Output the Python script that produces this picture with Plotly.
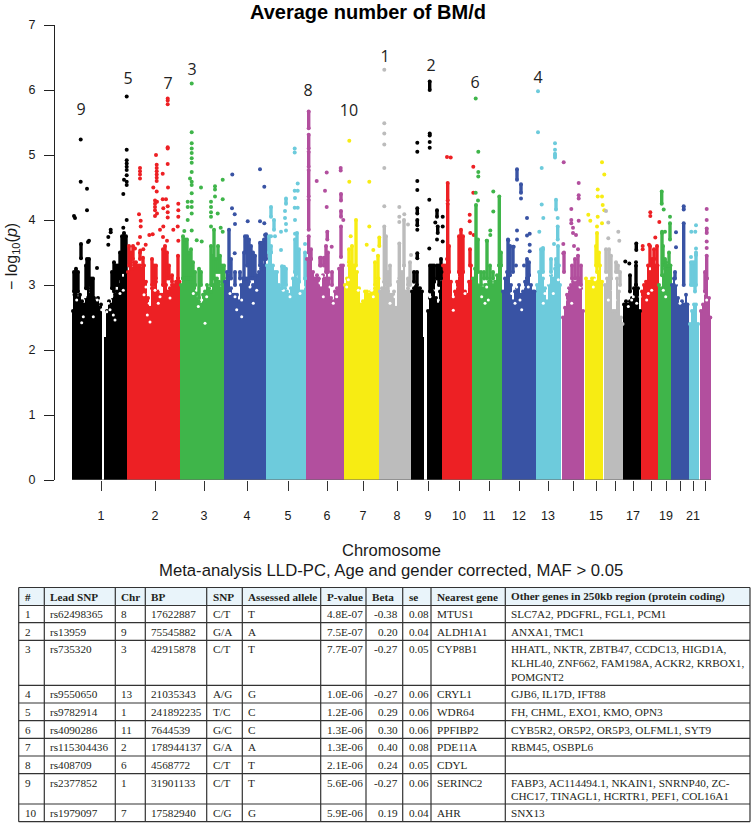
import plotly.graph_objects as go

# ---------- Manhattan plot data ----------
# x is a cumulative genome position on the plot's own scale; values are -log10(p).
labelled_ticks = [101,155,204,247,288,327,363,397,428,459,489,519,548,596,633,666,693]
tick_labels = ["1","2","3","4","5","6","7","8","9","10","11","12","13","15","17","19","21"]
unlabelled_ticks = [573,615,651,680,705]

# base blocks of the solid part: (chromosome, from, to)
blocks = [(1,72,102.2),(1,104,127),(2,127,180),(3,180,224),(4,224,266),(5,266,306),(6,306,344),(7,344,379),
          (8,379,411),(9,411,423.5),(9,427,442),(10,442,472),(11,472,502),(12,502,535),(13,535.7,561),(14,561.7,584),
          (15,585,603.3),(16,604,623.3),(17,623.3,640.7),(18,640.7,658.3),(19,658.3,671),(20,671,688.3),(21,689,699),(22,700,711)]
block_top = 2.2

sky1 = [(73,2.6),(74.5,2.85),(76,2.85),(78,2.8),(80,2.85),(82,2.75),(84,2.7),(86,2.8),(88,2.95),(90,2.85),(92,2.95),(94,2.8),(96,2.75),(98,2.8),(100,2.65),(101,2.7),(107,2.6),(109,2.75),(111,2.7),(113,2.8),(115,2.85),(117,2.9),(119,3.0),(121,3.2),(123,3.1),(125,3.2),(126.5,3.2)]
sky2 = [(128,3.2),(130,3.3),(132,3.25),(134,3.35),(136,3.35),(138,3.3),(140,3.3),(142,3.25),(144,3.3),(146,3.05),(148,2.8),(150,2.65),(152,2.95),(154,2.95),(156,3.05),(158,2.9),(160,2.85),(162,2.85),(164,3.0),(166,3.0),(168,2.9),(170,2.95),(172,3.0),(174,3.0),(176,3.05),(178,3.1),(179.5,3.05)]
sky3 = [(181,3.0),(183,3.1),(185,3.1),(187,3.1),(189,3.1),(191,3.05),(193,3.0),(195,3.0),(197,2.9),(199,2.75),(201,2.7),(203,2.85),(205,2.9),(207,3.0),(209,2.95),(211,2.9),(213,3.0),(215,3.1),(217,3.1),(219,3.05),(221,2.95),(223,3.05)]
sky4 = [(225,3.05),(227,3.2),(229,3.15),(231,2.95),(233,2.85),(235,2.85),(237,2.85),(239,2.75),(241,3.0),(243,3.1),(245,3.1),(247,3.1),(249,3.05),(251,2.95),(253,3.0),(255,3.1),(257,3.15),(259,3.2),(261,3.25),(263,3.3),(265,3.4)]
sky5 = [(267,3.3),(269,3.5),(271,3.5),(273,3.3),(275,3.2),(277,3.2),(279,3.0),(281,2.95),(283,2.9),(285,2.95),(287,2.9),(289,2.85),(291,2.95),(293,3.1),(295,3.2),(297,3.25),(299,3.05),(301,2.9),(303,2.9),(305,3.1)]
sky6 = [(307,3.4),(309,3.5),(311,3.4),(313,3.2),(315,3.1),(317,3.15),(319,3.1),(321,2.95),(323,3.15),(325,3.1),(327,3.2),(329,3.1),(331,2.8),(333,2.75),(335,2.9),(337,2.95),(339,3.25),(341,3.3),(343,3.3)]
sky7 = [(345,3.0),(347,3.1),(349,3.3),(351,3.35),(353,3.3),(355,3.3),(357,3.2),(359,2.95),(361,2.7),(363,2.75),(365,2.9),(367,2.9),(369,2.85),(371,2.9),(373,2.9),(375,2.95),(377,3.05),(378.5,3.1)]
sky8 = [(380,2.9),(382,2.95),(384,3.05),(386,2.95),(388,2.9),(390,2.85),(392,2.85),(394,2.9),(396,2.65),(398,3.05),(400,3.1),(402,3.2),(404,3.3),(406,2.9),(408,2.95),(410,2.9)]
sky9 = [(412,2.9),(414,2.95),(416,2.98),(418,2.95),(420,2.95),(422,2.9),(428,2.6),(430,2.8),(432,2.9),(434,3.05),(436,2.8),(438,2.7),(440,2.9),(441.5,3.2)]
sky10 = [(443,3.3),(445,3.3),(447,3.4),(449,3.2),(451,3.05),(453,2.8),(455,2.9),(457,3.05),(459,3.2),(461,3.3),(463,3.2),(465,2.9),(467,2.85),(469,3.05),(471,3.3)]
sky11 = [(473,3.1),(475,3.25),(477,3.25),(479,3.0),(481,2.95),(483,2.95),(485,3.0),(487,3.0),(489,3.05),(491,3.05),(493,3.0),(495,3.05),(497,3.15),(499,3.3),(501,3.3)]
sky12 = [(503,2.9),(505,3.1),(507,3.2),(509,3.15),(511,3.0),(513,2.75),(515,2.9),(517,2.95),(519,3.0),(521,2.85),(523,2.9),(525,3.05),(527,3.1),(529,3.15),(531,3.0),(533,2.9),(534.5,2.9)]
sky13 = [(537,3.0),(539,3.2),(541,3.2),(543,3.1),(545,2.95),(547,2.75),(549,3.0),(551,3.15),(553,3.1),(555,3.25),(557,3.3),(559,3.3),(560,3.0)]
sky14 = [(563,2.5),(565,2.65),(567,2.85),(569,2.95),(571,3.0),(573,3.05),(575,3.1),(577,3.1),(579,3.1),(581,2.95),(583,2.6)]
sky15 = [(586,3.1),(588,3.05),(590,3.05),(592,3.1),(594,3.1),(596,3.05),(598,3.2),(600,3.3),(602,3.05)]
sky16 = [(605,3.0),(607,3.1),(609,3.2),(611,3.1),(613,2.6),(615,2.6),(617,3.1),(619,2.9),(621,2.5),(622.5,2.4)]
sky17 = [(624,2.7),(626,2.75),(628,2.7),(630,2.75),(632,2.8),(634,2.95),(636,3.0),(638,2.95),(640,2.6)]
sky18 = [(642,2.9),(644,3.0),(646,3.05),(648,3.3),(650,3.2),(652,3.4),(654,3.4),(656,3.3),(657.5,3.3)]
sky19 = [(659,3.0),(661,2.95),(663,3.15),(665,3.25),(667,3.3),(669,3.3),(670.5,3.3)]
sky20 = [(672,3.0),(674,3.1),(676,3.0),(678,2.8),(680,2.7),(682,2.75),(684,2.7),(686,2.85),(687.5,2.7)]
sky21 = [(690,2.4),(692,2.6),(694,2.7),(696,2.7),(698,2.4)]
sky22 = [(701,2.6),(703,2.7),(705,2.9),(707,3.1),(709,2.8),(710.3,2.5)]
skylines = [sky1,sky2,sky3,sky4,sky5,sky6,sky7,sky8,sky9,sky10,sky11,sky12,sky13,sky14,sky15,sky16,sky17,sky18,sky19,sky20,sky21,sky22]

# small empty patches inside the mass
holes1 = [(81.7,2.42),(83.3,2.51),(76.7,2.77),(85,2.82),(80.7,2.97),(101.7,2.62),(93.3,2.51),(97.3,2.77),(111.7,2.82),(110,2.62),(115,2.46),(113.3,2.54),(120,2.87),(123.3,2.92),(106.7,2.59),(108.3,2.72)]
holes2 = [(147.3,2.54),(149.3,2.72),(148.3,2.87),(146,2.97),(144,2.85),(158.3,2.72),(160,2.82),(160.7,2.92),(150,2.43),(170,2.8),(160,3.08),(173.3,3.18),(155,2.92)]
holes3 = [(193.3,2.87),(196.7,2.92),(198.3,2.82),(201.7,2.77),(205,2.41),(186.7,3.13),(191.7,3.44),(195,3.28),(200,3.03),(206.7,2.82),(210,3.03),(198.3,2.67)]
holes4 = [(230,2.87),(235,2.82),(236.7,2.62),(241.7,2.51),(240,3.08),(241.7,2.77),(250,2.97),(253.3,2.72),(256.7,2.92),(246.7,3.18)]
holes5 = [(283.3,2.92),(286.7,3.18),(290,2.82),(300,2.87),(298.3,3.13),(303.3,2.97)]
holes6 = [(316.7,3.23),(320,3.03),(323.3,2.82),(330,2.97),(335,3.13),(336.7,2.82),(333.3,2.72),(321.7,3.13)]
holes7 = [(360,3.08),(363.3,2.97),(358.3,2.92),(371.7,2.92),(373.3,2.82),(348.3,3.08),(346.7,2.97),(361.7,2.82)]
holes8 = [(393.3,2.97),(395,2.82),(393.3,3.08),(383.3,3.08),(388.3,3.03),(390,2.72),(396.7,3.33)]
holes9 = [(433.3,2.92),(436.7,3.13),(440,3.08),(430,3.23),(430,2.82),(438.3,2.77)]
holes10 = [(453.3,2.82),(455,2.97),(456.7,3.13),(465,2.87),(466.7,2.97),(453.3,2.61)]
holes11 = [(480,3.03),(486.7,2.97),(488.3,2.77),(481.7,2.82),(493.3,3.18),(485,2.72)]
holes12 = [(511.7,2.87),(515,2.72),(516.7,2.97),(520,2.77),(523.3,2.97),(528.3,2.97),(521.7,2.62)]
holes13 = [(545,2.87),(543.3,2.72),(548.3,3.03),(553.3,2.87),(558.3,3.08),(550,3.18)]
holes14 = [(566.7,2.92),(565,2.77),(571.7,2.72),(575,3.08),(580,2.97),(570,3.13)]
holes15 = [(595,3.08),(593.3,2.97)]
holes16 = [(613.3,2.92),(615,2.77),(608.3,2.77),(611.7,3.13)]
holes17 = [(631.7,2.77),(636.7,2.72),(628.3,2.67),(633.3,2.82),(640,2.82)]
holes18 = [(648.3,2.87),(646.7,2.77),(651.7,2.92),(645,3.18)]
holes19 = [(663.3,2.92),(665.7,2.82)]
holes20 = [(676.7,3.03),(679.3,2.87),(680,2.72)]
holes21 = [(693.3,2.77)]
holes22 = [(703.3,2.87),(706.7,2.77)]
holes_all = [holes1,holes2,holes3,holes4,holes5,holes6,holes7,holes8,holes9,holes10,holes11,holes12,holes13,holes14,holes15,holes16,holes17,holes18,holes19,holes20,holes21,holes22]

# vertical runs of overlapping SNPs: (position, low, high)
runs1 = [(74,2.9,3.2),(76,2.9,3.25),(78,2.9,3.2),(81,3.41,3.63),(86,2.95,3.3),(87,2.95,3.4),(89,3.0,3.4),(91,2.9,3.1),(93,2.8,3.1),(112,2.95,3.2),(114,2.9,3.35),(116,3.0,3.3),(118,3.0,3.3),(120,3.1,3.5),(122,3.2,3.75),(124,3.2,3.8),(126,3.2,3.75)]
runs2 = [(129,3.3,3.6),(131,3.3,3.5),(133,3.4,3.6),(140,3.4,3.5),(143,3.3,3.42),(152,3.0,3.4),(154,3.0,3.3),(156,3.1,3.3),(163,3.0,3.55),(165,3.0,3.6),(167,3.1,3.5),(169,3.1,3.3),(172,3.05,3.15),(178,3.1,3.45)]
runs3 = [(183,3.1,3.75),(185,3.1,3.7),(187,3.1,3.7),(189,3.1,3.5),(191,3.1,3.55),(193,3.0,3.35),(195,3.0,3.2),(199,2.8,3.25),(201,3.0,3.2),(211,3.0,3.6),(212,3.0,3.45),(214,3.1,3.85),(216,3.2,3.4),(218,3.2,3.6),(220,3.2,3.45),(222,3.0,3.3),(224,3.1,3.3)]
runs4 = [(229,3.2,3.85),(231,3.1,3.4),(235,3.0,3.2),(240,3.1,3.2),(244,3.1,3.5),(245,3.5,3.75),(247,3.3,3.75),(249,3.1,3.7),(251,3.1,3.6),(253,3.1,3.5),(255,3.1,3.45),(260,3.3,3.65),(262,3.3,3.65),(264,3.4,3.7),(266,3.4,3.78)]
runs5 = [(269,3.5,3.75),(271,3.5,3.6),(271,4.05,4.2),(274,3.85,4.0),(282,2.95,3.29),(284,3.0,3.28),(286,3.0,3.25),(295,3.2,3.7),(297,3.25,3.8),(299,3.05,3.55),(305,3.1,3.5),(286,4.25,4.33)]
runs6 = [(308.7,3.5,3.75),(308.7,3.85,4.31),(308.7,4.36,4.77),(308.7,4.82,5.05),(308.7,5.1,5.31),(308.7,5.41,5.67),(311,3.4,3.55),(320,3.3,3.42),(321,3.3,3.42),(324,3.3,3.42),(326,3.2,3.6),(328,3.2,3.5),(332,3.0,3.2),(327.3,3.7,3.82),(341,4.05,4.14),(341,4.3,4.4),(341,3.43,3.9)]
runs7 = [(349,3.35,3.55),(352,3.2,3.6),(356,3.3,4.0),(375,3.0,3.35),(378,3.1,3.45),(379.3,3.6,3.73)]
runs8 = [(384.3,3.05,3.9),(386,3.0,3.75),(388,2.9,3.2),(390,3.0,3.3),(399.3,3.1,3.64),(404,3.3,4.0),(408,3.0,3.1),(410,3.0,3.35)]
runs9 = [(417,3.0,3.2),(414,3.05,3.2),(417.3,3.41,3.49),(417.3,3.92,4.0),(417.3,4.1,4.18),(429.7,6.0,6.13),(429.7,5.3,5.33),(430,2.9,3.3),(432,2.9,3.3),(434,3.05,3.3),(437,3.1,3.3),(439,3.0,3.3),(441,3.1,3.4),(437,4.05,4.15),(437.7,3.8,3.9)]
runs10 = [(447.7,3.4,4.25),(447.7,4.3,4.57),(449,3.2,3.6),(459,3.2,3.75),(461,3.3,3.85),(463,3.2,3.75),(470,3.3,3.55)]
runs11 = [(476,3.25,4.23),(478,3.2,3.7),(481,3.0,3.2),(484,3.1,3.2),(487,3.1,3.68),(490,3.05,3.3),(493,3.1,3.2),(499.3,3.3,4.36),(501,3.3,3.5)]
runs12 = [(508,3.2,3.7),(510,3.15,3.6),(513,3.2,3.59),(527,3.1,3.4),(529,3.15,3.35),(517,4.62,4.78),(521,4.42,4.55)]
runs13 = [(541,3.2,3.55),(543,3.2,3.55),(551,3.2,3.4),(556,3.3,3.4),(558,3.3,3.6),(555,4.96,5.0),(556,4.16,4.31),(557.7,3.7,3.9)]
runs14 = [(564,3.2,3.5),(572,3.1,3.3),(575,3.1,3.4),(578,3.1,3.45),(581,3.0,3.3)]
runs15 = [(597,3.2,3.8),(599,3.3,3.5),(596,3.3,3.6)]
runs16 = [(606,3.2,3.55),(609,3.2,3.55),(611,3.1,3.45),(616,3.2,3.35),(618,3.2,3.3),(620,3.0,3.2)]
runs17 = [(630,2.9,3.15),(636,3.0,3.3),(636.3,3.54,3.64)]
runs18 = [(650,3.3,3.6),(654,3.4,3.55),(657,3.3,3.6)]
runs19 = [(661.7,4.25,4.44),(662,3.15,3.8),(663,3.3,3.6),(665,3.3,3.4),(669,3.3,3.5),(670,3.7,3.95)]
runs20 = [(683.7,3.0,3.95),(675,3.1,3.2),(683.7,4.16,4.21)]
runs21 = [(691,3.0,3.35),(693,3.0,3.35),(695,2.9,3.35),(696,3.0,3.5)]
runs22 = [(706.7,3.1,3.45),(705,2.9,3.2),(706.7,3.8,3.87)]
runs_all = [runs1,runs2,runs3,runs4,runs5,runs6,runs7,runs8,runs9,runs10,runs11,runs12,runs13,runs14,runs15,runs16,runs17,runs18,runs19,runs20,runs21,runs22]

# individual points above the mass
pts1 = [(80.7,5.24),(80.7,4.59),(87,4.48),(87,4.15),(74,4.06),(75,4.03),(88,3.66),(89,3.68),(97,3.26),(126.7,5.9),(126.7,5.08),(126.7,4.92),(126.7,4.87),(126.7,4.82),(126.7,4.77),(126.7,4.69),(124,4.62),(126.7,4.59),(126.7,4.54),(123.3,4.4),(126.7,4.0),(123.3,3.88),(110.7,3.85),(110.7,3.81),(108.3,3.74),(108.3,3.62)]
pts2 = [(140,4.8),(140,4.75),(140,4.7),(140,4.64),(139,4.09),(140.7,3.99),(140.7,3.9),(156,5.0),(156.7,4.85),(156.7,4.8),(156.7,4.75),(156.7,4.7),(156.7,4.65),(156.7,4.6),(153.3,4.5),(156.7,4.44),(155,4.3),(155,4.25),(155,4.2),(157,4.28),(155,4.15),(157,4.1),(155,4.06),(162.7,4.32),(166,4.32),(167.7,5.87),(167.7,5.84),(167.7,5.78),(167.7,5.12),(167.7,5.1),(167.7,4.86),(162.7,4.71),(168,4.5),(163.3,4.18),(167.7,4.21),(167.7,4.12),(167.7,4.04),(178.3,4.25),(178.3,4.15),(178.3,4.05),(163.3,3.9),(160,3.85),(173.3,3.85),(177.7,3.9),(152.7,3.78),(149.3,3.77),(140,3.74),(138,3.64),(135,3.56),(145.7,3.62),(140.3,3.53),(143.3,3.55),(178.3,3.68),(163,3.74),(167,3.68)]
pts3 = [(191.7,6.1),(191.7,5.35),(191.7,5.18),(191.7,5.1),(191.7,5.03),(191.7,4.95),(191.7,4.88),(191.7,4.74),(190,4.64),(191.7,4.59),(191.7,4.54),(191.7,4.41),(201,4.5),(187.7,4.28),(191.7,4.28),(191.7,4.2),(187.7,4.2),(191.7,4.1),(187.7,4.0),(184.3,3.83),(191.7,3.84),(201.7,3.67),(196.7,3.69),(215,4.52),(215,4.47),(222.7,4.62),(215,4.36),(222.7,4.32),(211,4.28),(211,4.2),(211,4.12),(211,4.05),(217.7,4.1),(211,3.9),(220.7,3.88),(222.7,3.82)]
pts4 = [(232.3,4.7),(232,4.18),(234.7,4.09),(235,3.94),(234.7,3.49),(247.7,3.98),(260,4.78),(264.3,4.51),(260,3.98),(264.3,3.95),(265,3.77)]
pts5 = [(294.7,5.1),(294.7,5.04),(297.7,4.56),(294.7,4.45),(297.7,4.45),(295,4.34),(285,4.14),(294.7,4.19),(297.7,4.19),(295,4.0),(285,4.03),(286,3.94),(286,3.84),(281,3.82),(295,3.79),(271,3.75),(275,3.75),(281,3.54),(305,3.63)]
pts6 = [(316.7,4.6),(326.7,4.73),(325,4.45),(326.7,4.2),(340.7,4.8),(340.7,4.76),(343.3,4.0),(331.7,3.59)]
pts7 = [(349.3,5.22),(349.3,4.59),(369.3,4.59),(369.3,3.9),(366.7,3.62),(350.7,3.75),(373.3,3.54)]
pts8 = [(384.3,6.31),(384.3,5.49),(384.3,5.33),(384.3,5.16),(384.3,4.8),(384.3,4.21),(399.3,4.2),(399.3,4.05),(399.3,3.97),(404.3,4.09),(408,3.93),(411,3.46)]
pts9 = [(417.3,5.19),(417.3,5.05),(417.3,4.6),(417.3,4.46),(417.3,3.85),(429.7,5.2),(429.7,5.11),(429.3,4.31),(429.3,3.56),(435.3,3.96),(442.7,4.05),(442.7,3.9),(437,3.7),(442.7,3.67)]
pts10 = [(447,4.97),(450.7,4.96),(469.7,4.08),(469.7,3.98),(470.3,3.8),(473.7,3.77),(473.3,4.82),(473.3,4.42)]
pts11 = [(475.7,5.87),(478.3,5.05),(478.3,4.74),(478.3,4.67),(475.7,4.42),(478,4.3),(493.3,4.44),(493.3,4.13),(490.3,3.84),(490.3,3.77),(486.7,3.68)]
pts12 = [(521,4.33),(527,4.03),(517,3.84),(517,3.7),(508.3,3.69),(513.7,3.59),(527,3.76),(529.7,3.79),(529.7,3.62),(529.7,3.52),(516,3.3),(524,3.3)]
pts13 = [(538,5.98),(538,5.35),(541.7,4.8),(541.7,4.24),(543.3,4.03),(539.3,3.82),(543,3.57),(555,5.18),(555,5.08),(555,5.02),(557.7,4.03),(554,3.63)]
pts14 = [(563.7,4.89),(578.7,4.57),(578.7,4.38),(578.7,4.33),(571.3,4.17),(571.3,4.0),(571.3,3.95),(578.7,3.99),(573,3.88),(573,3.8),(576,3.77),(563.3,3.63),(563.3,3.49),(574,3.6),(578,3.55)]
pts15 = [(602,4.89),(604.3,4.7),(597.7,4.47),(597.7,4.36),(602,4.36),(602.7,4.23),(604.3,4.15),(588.3,4.08),(590.3,3.99),(597.7,4.05),(602,3.95),(597,3.9)]
pts16 = [(606,4.14),(608.3,3.96),(608.3,3.72),(618.3,3.82),(619.3,3.68)]
pts17 = [(625.3,3.36),(629.3,3.33),(636,3.35)]
pts18 = [(650.3,4.12),(650.3,4.06),(659.3,3.97),(655.3,3.73),(642.7,3.6),(642.7,3.55),(649,3.62)]
pts19 = [(663.7,4.16),(662,3.82),(665,3.82),(670,4.05),(666,3.35)]
pts20 = [(676,3.81),(676,3.58)]
pts21 = [(696,3.92),(691.3,3.82),(695.3,3.82),(696,3.56),(691,3.43),(696,3.46)]
pts22 = [(706.7,4.17),(706.7,4.0),(706.7,3.67),(706.7,3.57)]
points_all = [pts1,pts2,pts3,pts4,pts5,pts6,pts7,pts8,pts9,pts10,pts11,pts12,pts13,pts14,pts15,pts16,pts17,pts18,pts19,pts20,pts21,pts22]

# lead-SNP rank labels
peak_rank = ["9","5","7","3","8","10","1","2","6","4"]
peak_pos = [81,128,168,192,308,349,385,431,475,538]
peak_val = [5.68,6.15,6.07,6.3,5.97,5.66,6.5,6.35,6.1,6.17]

# ---------- table ----------
header = ["#","Lead SNP","Chr","BP","SNP","Assessed allele","P-value","Beta","se","Nearest gene","Other genes in 250kb region (protein coding)"]
rank = ["1","2","3","4","5","6","7","8","9","10"]
lead_snp = ["rs62498365","rs13959","rs735320","rs9550650","rs9782914","rs4090286","rs115304436","rs408709","rs2377852","rs1979097"]
chr_col = ["8","9","3","13","1","11","2","6","1","7"]
bp = ["17622887","75545882","42915878","21035343","241892235","7644539","178944137","4568772","31901133","17582940"]
snp = ["C/T","G/A","C/T","A/G","T/C","G/C","G/A","C/T","C/T","C/G"]
allele = ["T","A","T","G","C","C","A","T","T","G"]
pvalue = ["4.8E-07","7.5E-07","7.7E-07","1.0E-06","1.2E-06","1.3E-06","1.3E-06","2.1E-06","5.6E-06","5.9E-06"]
beta = ["-0.38","0.20","-0.27","-0.27","0.29","0.30","0.40","0.24","-0.27","0.19"]
se = ["0.08","0.04","0.05","0.06","0.06","0.06","0.08","0.05","0.06","0.04"]
nearest = ["MTUS1","ALDH1A1","CYP8B1","CRYL1","WDR64","PPFIBP2","PDE11A","CDYL","SERINC2","AHR"]
others = ["SLC7A2, PDGFRL, FGL1, PCM1","ANXA1, TMC1",
          "HHATL, NKTR, ZBTB47, CCDC13, HIGD1A,\nKLHL40, ZNF662, FAM198A, ACKR2, KRBOX1,\nPOMGNT2",
          "GJB6, IL17D, IFT88","FH, CHML, EXO1, KMO, OPN3","CYB5R2, OR5P2, OR5P3, OLFML1, SYT9","RBM45, OSBPL6","",
          "FABP3, AC114494.1, NKAIN1, SNRNP40, ZC-\nCHC17, TINAGL1, HCRTR1, PEF1, COL16A1","SNX13"]
table_cols = [rank,lead_snp,chr_col,bp,snp,allele,pvalue,beta,se,nearest,others]

# ---------- styles ----------
W, H = 752, 824
palette = ["#000000","#ed2024","#3fb54a","#3953a4","#6dcbdc","#b24f9e","#f7ec13","#bcbcbc"]
color_of = lambda c: palette[(c-1) % 8]
SANS = "Liberation Sans"
SERIF = "Liberation Serif"
INK = "#231f20"
px = lambda x: x/W
py = lambda y: 1-y/H
Y0, Y7 = 480, 25

fig = go.Figure()

for c, a, b in blocks:
    fig.add_trace(go.Bar(x=[(a+b)/2], y=[block_top], width=[b-a], marker=dict(color=color_of(c), line_width=0), hoverinfo="skip"))

for i in range(22):
    col = color_of(i+1)
    sky = skylines[i]
    fig.add_trace(go.Bar(x=[p[0] for p in sky], y=[p[1] for p in sky], width=2.3, marker=dict(color=col, line_width=0), hoverinfo="skip"))
    mx = [p[0] for p in sky]
    my = [p[1] for p in sky]
    fig.add_trace(go.Scatter(x=mx, y=my, mode="markers", marker=dict(color=col, size=4, line_width=0), hoverinfo="skip"))
    fig.add_trace(go.Scatter(x=[p[0] for p in holes_all[i]], y=[p[1] for p in holes_all[i]], mode="markers",
                             marker=dict(color="white", size=3, line_width=0), hoverinfo="skip"))
    lx, ly = [], []
    for x, lo, hi in runs_all[i]:
        lx += [x, x, None]; ly += [lo, hi, None]
    fig.add_trace(go.Scatter(x=lx, y=ly, mode="lines", line=dict(color=col, width=3.4), hoverinfo="skip"))
    mx = [r[0] for r in runs_all[i]]*2 + [p[0] for p in points_all[i]]
    my = [r[1] for r in runs_all[i]] + [r[2] for r in runs_all[i]] + [p[1] for p in points_all[i]]
    fig.add_trace(go.Scatter(x=mx, y=my, mode="markers", marker=dict(color=col, size=4, line_width=0), hoverinfo="skip"))

fig.add_trace(go.Scatter(x=peak_pos, y=peak_val, mode="text", text=peak_rank,
                         textposition="middle center", textfont=dict(family="Open Sans", size=16, color="#222222"), hoverinfo="skip"))

ann = []
def label(x, y, text, family=SANS, size=12, color="#1a1a1a", anchor="center", angle=0):
    ann.append(dict(xref="paper", yref="paper", x=px(x), y=py(y), text=text, showarrow=False,
                    xanchor=anchor, yanchor="middle", textangle=angle, borderpad=0,
                    font=dict(family=family, size=size, color=color)))

label(367.5, 11.8, "<b>Average number of BM/d</b>", size=20, color="#000000")
label(391, 550, "Chromosome", size=16.5)
label(391, 570, "Meta-analysis LLD-PC, Age and gender corrected, MAF &gt; 0.05", size=16.7)
label(12, 257, "− log<sub>10</sub>(<i>p</i>)", size=16, angle=-90)

# table geometry
col_edges = [18.7,44.3,115.3,145.3,206.7,242.3,320.7,366,402.7,431,505.3,750]
row_edges = [587.5,605.5,622.7,640.3,685.3,703,720.7,738.3,756,773.7,804,821.7]
shapes = [dict(type="rect", xref="paper", yref="paper", x0=px(col_edges[0]), x1=px(col_edges[-1]),
               y0=py(row_edges[0]), y1=py(row_edges[1]), fillcolor="#e9f4fa", line_width=0, layer="below")]
for xe in col_edges:
    shapes.append(dict(type="line", xref="paper", yref="paper", x0=px(xe), x1=px(xe), y0=py(row_edges[0]), y1=py(row_edges[-1]),
                       line=dict(color="#333333", width=1.2)))
for ye in row_edges:
    shapes.append(dict(type="line", xref="paper", yref="paper", x0=px(col_edges[0]), x1=px(col_edges[-1]), y0=py(ye), y1=py(ye),
                       line=dict(color="#333333", width=1.2)))
shapes.append(dict(type="line", xref="x", yref="y", x0=72, x1=711, y0=0, y1=0, line=dict(color="#666666", width=1)))

TXT = 11.2
for j, h in enumerate(header):
    label(col_edges[j]+5, (row_edges[0]+row_edges[1])/2, f"<b>{h}</b>", family=SERIF, size=TXT, color=INK, anchor="left")
for j, column in enumerate(table_cols):
    for r, cell in enumerate(column):
        for k, line in enumerate(cell.split("\n")):
            if not line:
                continue
            y = row_edges[r+1]+8.8+k*13.8
            if j == 7:
                label(col_edges[j+1]-4, y, line, family=SERIF, size=TXT, color=INK, anchor="right")
            else:
                label(col_edges[j]+5, y, line, family=SERIF, size=TXT, color=INK, anchor="left")

fig.update_layout(
    width=W, height=H, margin=dict(l=0, r=0, t=0, b=0, autoexpand=False), paper_bgcolor="white", plot_bgcolor="white",
    showlegend=False, barmode="overlay", annotations=ann, shapes=shapes, bargap=0,
    xaxis=dict(domain=[0,1], range=[0,W], tickmode="array", tickvals=labelled_ticks, ticktext=tick_labels,
               ticks="outside", ticklen=10, tickwidth=1, tickcolor="#333333", showgrid=False, zeroline=False, showline=False,
               minor=dict(tickmode="array", tickvals=unlabelled_ticks, ticks="outside", ticklen=10, tickwidth=1, tickcolor="#333333", showgrid=False),
               tickfont=dict(family=SANS, size=12.5, color="#1a1a1a"), ticklabelstandoff=14),
    yaxis=dict(domain=[py(Y0), py(Y7)], range=[0,7], tickmode="array", tickvals=list(range(8)),
               ticks="outside", ticklen=10, tickwidth=1, tickcolor="#222222", showgrid=False, zeroline=False,
               showline=True, linecolor="#222222", linewidth=1, anchor="free", position=54/W,
               tickfont=dict(family=SANS, size=12.5, color="#1a1a1a"), ticklabelstandoff=6),
)
fig.write_html("out.html", config={"displayModeBar": False},
               post_script="document.body.style.margin='0';document.body.style.overflow='hidden';")
